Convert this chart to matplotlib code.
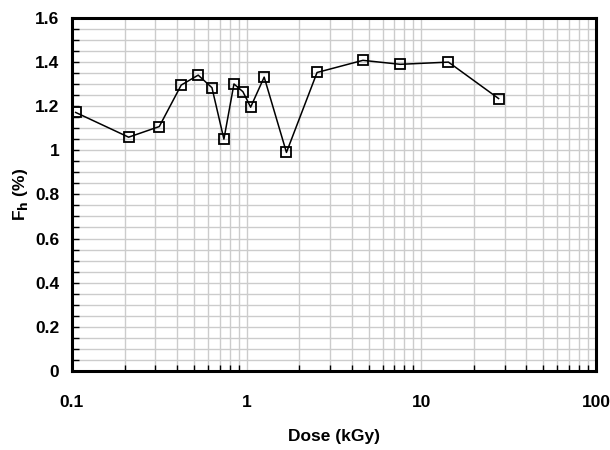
import matplotlib
matplotlib.use('Agg')
import matplotlib.pyplot as plt
from matplotlib.ticker import LogLocator, MultipleLocator, FixedLocator, NullFormatter

plt.rcParams['font.family'] = ['Liberation Sans Narrow', 'Liberation Sans', 'DejaVu Sans']
plt.rcParams['font.weight'] = 'bold'

# dose (kGy) and Fh (%)
dose = [0.105, 0.211, 0.316, 0.422, 0.528, 0.633, 0.741, 0.846, 0.952, 1.054,
        1.26, 1.69, 2.53, 4.63, 7.57, 14.3, 27.7]
fh = [1.171, 1.059, 1.107, 1.295, 1.340, 1.283, 1.050, 1.300, 1.265, 1.195,
      1.331, 0.990, 1.352, 1.407, 1.389, 1.399, 1.234]

x_ticks = [0.1, 1, 10, 100]
x_labels = ['0.1', '1', '10', '100']
y_ticks = [0, 0.2, 0.4, 0.6, 0.8, 1.0, 1.2, 1.4, 1.6]
y_labels = ['0', '0.2', '0.4', '0.6', '0.8', '1', '1.2', '1.4', '1.6']

fig = plt.figure(figsize=(6.1, 4.5), dpi=100)
ax = fig.add_axes([0.118, 0.1756, 0.859, 0.785])

ax.plot(dose, fh, color='black', linewidth=1.1, marker='s', markersize=7.8,
        markerfacecolor='none', markeredgecolor='black', markeredgewidth=1.3, zorder=3)

ax.set_xscale('log')
ax.set_xlim(0.1, 100)
ax.set_ylim(0, 1.6)

ax.xaxis.set_major_locator(FixedLocator(x_ticks))
ax.set_xticklabels(x_labels)
ax.xaxis.set_minor_locator(LogLocator(base=10, subs=range(2, 10)))
ax.xaxis.set_minor_formatter(NullFormatter())
ax.set_yticks(y_ticks)
ax.set_yticklabels(y_labels)
ax.yaxis.set_minor_locator(MultipleLocator(0.05))

ax.grid(which='both', color='#cccccc', linewidth=1.0, zorder=0)
ax.set_axisbelow(True)

ax.tick_params(which='both', direction='in', color='black', width=1.0)
ax.tick_params(axis='x', which='major', length=0, pad=17, labelsize=12.5)
ax.tick_params(axis='x', which='minor', length=4)
ax.tick_params(axis='y', which='major', length=5, pad=9, labelsize=12.5)
ax.tick_params(axis='y', which='minor', length=5)
ax.tick_params(top=False, right=False, which='both')

for s in ax.spines.values():
    s.set_linewidth(2.2)

ax.set_xlabel('Dose (kGy)', fontsize=12.5, fontweight='bold', labelpad=14)
ax.set_ylabel('F$_\\mathbf{h}$ (%)', fontsize=12.5, fontweight='bold', labelpad=4)

fig.savefig('out.png', dpi=100)
